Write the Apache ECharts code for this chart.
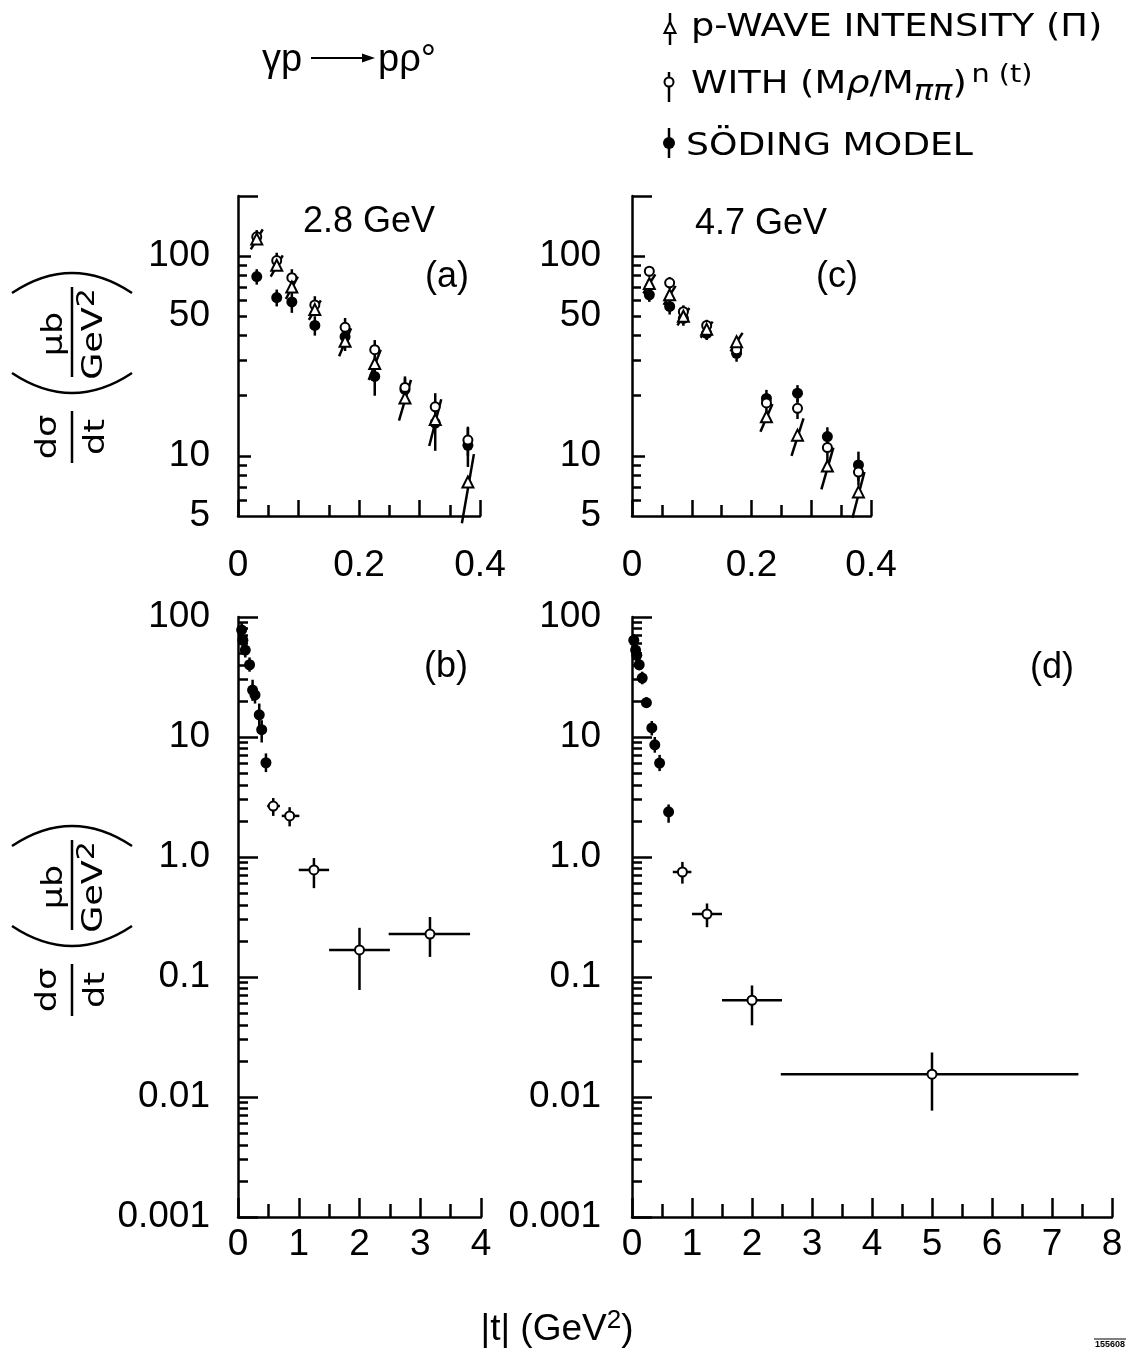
<!DOCTYPE html>
<html>
<head>
<meta charset="utf-8">
<script src="https://cdn.jsdelivr.net/npm/echarts@6.0.0/dist/echarts.min.js"></script>
<style>
html,body{margin:0;padding:0;background:#fff;}
#chart{width:1138px;height:1353px;}
</style>
</head>
<body>
<div id="chart"></div>
<script>
// ================= DATA =================
// Panel (a): 2.8 GeV, small |t|
const tA        = [0.031, 0.064, 0.089, 0.127, 0.177, 0.226, 0.276, 0.326, 0.380];
const pwaveA    = [122, 90, 70, 54, 37.5, 29, 19.5, 15.2, 7.4];
const pwaveAErr = [14, 11, 9, 6, 6, 5, 4.5, 4, 2.8];
const withA     = [125, 95, 78, 57, 44, 34, 22, 17.6, 12];
const withAErr  = [10, 9, 8, 6, 5, 4, 3, 3, 2];
const sodingA   = [79, 62, 59, 45, 39.5, 25, 21.5, 14.6, 11.3];
const sodingAErr= [7, 6, 7, 5, 6, 5, 3, 4, 2.5];

// Panel (c): 4.7 GeV, small |t|
const tC        = [0.029, 0.063, 0.086, 0.125, 0.175, 0.225, 0.277, 0.327, 0.379];
const pwaveC    = [73, 64, 50, 43, 37.3, 15.7, 12.7, 8.9, 6.6];
const pwaveCErr = [8, 7, 5, 4, 4, 2.5, 2.7, 2.1, 1.7];
const withC     = [84, 73.5, 52.7, 45, 34, 18.4, 17.3, 11.0, 8.3];
const withCErr  = [5, 5, 4, 3, 3, 2, 2, 1.8, 1.2];
const sodingC   = [64, 56, 48.8, 41, 32.6, 19.4, 20.6, 12.5, 9.0];
const sodingCErr= [5, 5, 4, 3, 3, 2, 2, 1.4, 1.5];

// Panel (b): 2.8 GeV, full |t| range
const tBf       = [0.06, 0.08, 0.12, 0.19, 0.24, 0.28, 0.35, 0.39, 0.46];
const sodingB   = [78, 64, 53, 40, 24.6, 22.4, 15.3, 11.5, 6.1];
const sodingBLo = [68, 55, 46, 35, 20, 19, 12, 9.0, 5.1];
const sodingBHi = [90, 74, 61, 46, 30, 26, 19, 13.8, 7.3];
const tBo       = [0.58, 0.85, 1.25, 2.0, 3.16];
const withB     = [2.66, 2.2, 0.78, 0.168, 0.228];
const withBLo   = [2.2, 1.8, 0.55, 0.078, 0.147];
const withBHi   = [3.1, 2.6, 0.98, 0.257, 0.316];
const withBtLo  = [0.48, 0.72, 1.0, 1.5, 2.48];
const withBtHi  = [0.69, 1.01, 1.5, 2.5, 3.82];

// Panel (d): 4.7 GeV, full |t| range
const tDf       = [0.03, 0.06, 0.08, 0.12, 0.17, 0.24, 0.33, 0.38, 0.46, 0.61];
const sodingD   = [64, 53, 48, 40, 31, 19.3, 11.9, 8.6, 6.06, 2.38];
const sodingDLo = [57, 47, 43, 36, 27.5, 17.5, 10.3, 7.4, 5.2, 1.93];
const sodingDHi = [72, 60, 54, 45, 35, 21.5, 13.6, 10, 7.1, 2.74];
const tDo       = [0.84, 1.25, 2.0, 5.0];
const withD     = [0.75, 0.335, 0.064, 0.0155];
const withDLo   = [0.60, 0.26, 0.0396, 0.0077];
const withDHi   = [0.91, 0.41, 0.085, 0.0235];
const withDtLo  = [0.68, 1.0, 1.5, 2.48];
const withDtHi  = [0.99, 1.5, 2.5, 7.44];

// Tick values / labels
const yLabelTopVals = [5, 10, 50, 100];
const yLabelTopText = ['5', '10', '50', '100'];
const yMajorTop     = [10, 100];
const yCapTop       = [200];
const yMinorTop     = [6, 7, 8, 9, 20, 30, 40, 50, 60, 70, 80, 90];
const yLabelBotVals = [0.001, 0.01, 0.1, 1, 10, 100];
const yLabelBotText = ['0.001', '0.01', '0.1', '1.0', '10', '100'];
const yMajorBot     = [0.001, 0.01, 0.1, 1, 10, 100];
const yMinorBot     = [];
[0.001, 0.01, 0.1, 1, 10].forEach(d => { for (let k = 2; k <= 9; k++) yMinorBot.push(+(d * k).toPrecision(3)); });

const seriesNames = ['p-WAVE INTENSITY (Π)', 'WITH (Mρ/Mππ)^n(t)', 'SÖDING MODEL'];

// ================= CHART =================
const chart = echarts.init(document.getElementById('chart'), null, {renderer: 'canvas'});
const INK = '#000';
const LW = 2.5;
const NUM_FONT = 'Liberation Sans';
const TXT_FONT = 'DejaVu Sans';

const grids = [
  {left: 238, top: 196, width: 242, height: 320},  // (a)
  {left: 632, top: 196, width: 239, height: 320},  // (c)
  {left: 238, top: 617, width: 243, height: 600},  // (b)
  {left: 632, top: 617, width: 480, height: 600}   // (d)
];

function fmtTopX(v) {
  const r = Math.round(v * 10);
  if (r % 2 !== 0) return '';
  return r === 0 ? '0' : (r / 10).toFixed(1);
}

function xAxisCfg(gi, max, interval, margin, fmt, majLen, minLen) {
  return {
    gridIndex: gi, type: 'value', min: 0, max: max, interval: interval, position: 'bottom',
    axisLine: {show: true, onZero: false, lineStyle: {color: INK, width: LW}},
    axisTick: {show: true, inside: true, length: majLen, lineStyle: {color: INK, width: LW}},
    minorTick: {show: true, splitNumber: 2, length: minLen, lineStyle: {color: INK, width: LW}},
    splitLine: {show: false}, minorSplitLine: {show: false},
    axisLabel: {show: true, margin: margin, color: INK, fontSize: 37, fontFamily: NUM_FONT,
      formatter: fmt, showMinLabel: true, showMaxLabel: true, hideOverlap: false}
  };
}

const xAxes = [
  xAxisCfg(0, 0.4, 0.1, 31, fmtTopX, 16, 11),
  xAxisCfg(1, 0.4, 0.1, 31, fmtTopX, 16, 11),
  xAxisCfg(2, 4, 1, 9, v => String(Math.round(v)), 19, 13),
  xAxisCfg(3, 8, 1, 9, v => String(Math.round(v)), 19, 13)
];

const yAxes = [];
const mainY = [];
function addY(gi, min, max, groups, labelVals, labelText, margin) {
  groups.forEach((g, k) => {
    const ax = {
      gridIndex: gi, type: 'log', logBase: 10, min: min, max: max, position: 'left', offset: 0,
      axisLine: {show: k === 0, onZero: false, lineStyle: {color: INK, width: LW}},
      axisTick: {show: true, inside: true, length: g.len, customValues: g.vals, lineStyle: {color: INK, width: LW}},
      splitLine: {show: false},
      axisLabel: {show: false}
    };
    if (k === 0) {
      ax.axisLabel = {
        show: true, margin: margin, color: INK, fontSize: 37, fontFamily: NUM_FONT,
        customValues: labelVals, showMinLabel: true, showMaxLabel: true, hideOverlap: false,
        formatter: v => {
          const i = labelVals.findIndex(u => Math.abs(Math.log10(u / v)) < 1e-4);
          return i >= 0 ? labelText[i] : '';
        }
      };
      mainY[gi] = yAxes.length;
    }
    yAxes.push(ax);
  });
}
addY(0, 5, 200, [{vals: yMajorTop, len: 13}, {vals: yMinorTop, len: 9}, {vals: yCapTop, len: 20}], yLabelTopVals, yLabelTopText, 28);
addY(1, 5, 200, [{vals: yMajorTop, len: 13}, {vals: yMinorTop, len: 9}, {vals: yCapTop, len: 20}], yLabelTopVals, yLabelTopText, 31);
addY(2, 0.001, 100, [{vals: yMajorBot, len: 20}, {vals: yMinorBot, len: 10}], yLabelBotVals, yLabelBotText, 28);
addY(3, 0.001, 100, [{vals: yMajorBot, len: 20}, {vals: yMinorBot, len: 10}], yLabelBotVals, yLabelBotText, 31);

// error bar renderer
function barRenderer(slant) {
  return function (params, api) {
    const t = api.value(0), lo = api.value(1), hi = api.value(2);
    const tl = api.value(3), th = api.value(4), v = api.value(5);
    const a = api.coord([t, lo]), b = api.coord([t, hi]);
    const ch = [{type: 'line', shape: {x1: a[0] - slant, y1: a[1], x2: b[0] + slant, y2: b[1]},
      style: {stroke: INK, lineWidth: LW}}];
    if (th > tl) {
      const c = api.coord([tl, v]), d = api.coord([th, v]);
      ch.push({type: 'line', shape: {x1: c[0], y1: c[1], x2: d[0], y2: d[1]}, style: {stroke: INK, lineWidth: LW}});
    }
    return {type: 'group', children: ch};
  };
}

const series = [];
const SYM = {
  tri:    {symbol: 'triangle', symbolSize: 11, itemStyle: {color: '#fff', borderColor: INK, borderWidth: 2, opacity: 1}},
  open:   {symbol: 'circle', symbolSize: 9, itemStyle: {color: '#fff', borderColor: INK, borderWidth: 2, opacity: 1}},
  filled: {symbol: 'circle', symbolSize: 11, itemStyle: {color: INK, opacity: 1}}
};
function addSet(gi, name, kind, t, v, lo, hi, tlo, thi, slant) {
  const bars = t.map((x, i) => [x, lo[i], hi[i], tlo ? tlo[i] : x, thi ? thi[i] : x, v[i]]);
  series.push({
    type: 'custom', name: name, xAxisIndex: gi, yAxisIndex: mainY[gi], z: 2, silent: true,
    renderItem: barRenderer(slant || 0), encode: {x: 0, y: [1, 2]}, data: bars, animation: false
  });
  series.push(Object.assign({
    type: 'scatter', name: name, xAxisIndex: gi, yAxisIndex: mainY[gi], z: 3, silent: true,
    data: t.map((x, i) => [x, v[i]]), animation: false
  }, SYM[kind]));
}
const sub = (v, e) => v.map((x, i) => x - e[i]);
const add = (v, e) => v.map((x, i) => x + e[i]);

// (a)
addSet(0, seriesNames[2], 'filled', tA, sodingA, sub(sodingA, sodingAErr), add(sodingA, sodingAErr));
addSet(0, seriesNames[1], 'open', tA, withA, sub(withA, withAErr), add(withA, withAErr));
addSet(0, seriesNames[0], 'tri', tA, pwaveA, sub(pwaveA, pwaveAErr), add(pwaveA, pwaveAErr), null, null, 6);
// (c)
addSet(1, seriesNames[2], 'filled', tC, sodingC, sub(sodingC, sodingCErr), add(sodingC, sodingCErr));
addSet(1, seriesNames[1], 'open', tC, withC, sub(withC, withCErr), add(withC, withCErr));
addSet(1, seriesNames[0], 'tri', tC, pwaveC, sub(pwaveC, pwaveCErr), add(pwaveC, pwaveCErr), null, null, 6);
// (b)
addSet(2, seriesNames[2], 'filled', tBf, sodingB, sodingBLo, sodingBHi);
addSet(2, seriesNames[1], 'open', tBo, withB, withBLo, withBHi, withBtLo, withBtHi);
// (d)
addSet(3, seriesNames[2], 'filled', tDf, sodingD, sodingDLo, sodingDHi);
addSet(3, seriesNames[1], 'open', tDo, withD, withDLo, withDHi, withDtLo, withDtHi);

// ---------- annotations ----------
function txt(s, x, y, size, align, font, sx) {
  return {type: 'text', x: x, y: y, scaleX: sx || 1, silent: true,
    style: {text: s, fontSize: size, fontFamily: font || NUM_FONT, fill: INK, align: align || 'center', verticalAlign: 'middle'}};
}
function yTitle(Y0) {
  const sx = 1.25, fs = 28;
  const t = (s, lx, ly, rich) => ({type: 'text', x: lx, y: ly, scaleX: sx, silent: true,
    style: {text: s, fontSize: fs, fontFamily: TXT_FONT, fill: INK, align: 'center', verticalAlign: 'middle', rich: rich}});
  const ln = (x1, x2) => ({type: 'line', shape: {x1: x1, y1: 0, x2: x2, y2: 0}, style: {stroke: INK, lineWidth: LW}});
  const arc = (x0, cx) => ({type: 'bezierCurve', shape: {x1: x0, y1: -60, x2: x0, y2: 60, cpx1: cx, cpy1: 0},
    style: {stroke: INK, fill: null, lineWidth: LW}});
  return {type: 'group', x: 72, y: Y0, rotation: Math.PI / 2, silent: true, children: [
    t('dσ', 28, -23), ln(2, 54), t('dt', 28, 25),
    arc(92, 52),
    t('μb', 131, -17), ln(88, 178),
    t('{a|GeV}{s|2}', 131, 23, {a: {fontSize: fs, fontFamily: TXT_FONT, fill: INK, lineHeight: 38},
      s: {fontSize: 24, fontFamily: TXT_FONT, fill: INK, verticalAlign: 'top', lineHeight: 24}}),
    arc(172, 212)
  ]};
}

const graphics = [
  // reaction
  txt('γp', 262, 61, 38, 'left'),
  {type: 'line', silent: true, shape: {x1: 311, y1: 58, x2: 366, y2: 58}, style: {stroke: INK, lineWidth: 2}},
  {type: 'polygon', silent: true, shape: {points: [[375, 58], [362, 53.5], [362, 62.5]]}, style: {fill: INK}},
  txt('pρ°', 378, 61, 38, 'left'),
  // legend
  {type: 'line', silent: true, shape: {x1: 670, y1: 13, x2: 670, y2: 45}, style: {stroke: INK, lineWidth: LW}},
  {type: 'polygon', silent: true, shape: {points: [[670, 22], [664.5, 33], [675.5, 33]]}, style: {fill: '#fff', stroke: INK, lineWidth: 2}},
  txt(seriesNames[0], 691, 28, 32, 'left', TXT_FONT, 1.15),
  {type: 'line', silent: true, shape: {x1: 669, y1: 72, x2: 669, y2: 102}, style: {stroke: INK, lineWidth: LW}},
  {type: 'circle', silent: true, shape: {cx: 669, cy: 82, r: 4.5}, style: {fill: '#fff', stroke: INK, lineWidth: 2}},
  {type: 'text', x: 691, y: 85, scaleX: 1.15, silent: true, style: {
    text: '{n|WITH (M}{i|ρ}{n|/M}{b|ππ}{n|)}{p|n (t)}', fill: INK, align: 'left', verticalAlign: 'middle',
    rich: {
      n: {fontSize: 32, fontFamily: TXT_FONT, lineHeight: 44},
      i: {fontSize: 32, fontFamily: TXT_FONT, fontStyle: 'italic', lineHeight: 44},
      b: {fontSize: 28, fontFamily: TXT_FONT, fontStyle: 'italic', verticalAlign: 'bottom', lineHeight: 27},
      p: {fontSize: 25, fontFamily: TXT_FONT, verticalAlign: 'top', lineHeight: 24, padding: [0, 0, 0, 4]}
    }}},
  {type: 'line', silent: true, shape: {x1: 669, y1: 128, x2: 669, y2: 158}, style: {stroke: INK, lineWidth: LW}},
  {type: 'circle', silent: true, shape: {cx: 669, cy: 143, r: 6}, style: {fill: INK}},
  txt(seriesNames[2], 686, 147, 32, 'left', TXT_FONT, 1.13),
  // panel labels
  txt('2.8 GeV', 369, 222, 36),
  txt('(a)', 447, 277, 36),
  txt('4.7 GeV', 761, 224, 36),
  txt('(c)', 837, 277, 36),
  txt('(b)', 446, 667, 36),
  txt('(d)', 1052, 668, 36),
  // y titles
  yTitle(465),
  yTitle(1018),
  // x title
  {type: 'text', x: 557, y: 1330, silent: true, style: {
    text: '{n||t| (GeV}{s|2}{n|)}', fill: INK, align: 'center', verticalAlign: 'middle',
    rich: {n: {fontSize: 37, fontFamily: NUM_FONT, lineHeight: 44},
           s: {fontSize: 26, fontFamily: NUM_FONT, verticalAlign: 'top', lineHeight: 26}}}},
  // figure number
  {type: 'text', x: 1110, y: 1345, silent: true, style: {text: '155608', fontSize: 9, fontWeight: 'bold', fontFamily: NUM_FONT, fill: INK, align: 'center', verticalAlign: 'middle'}},
  {type: 'line', silent: true, shape: {x1: 1094, y1: 1339, x2: 1126, y2: 1339}, style: {stroke: INK, lineWidth: 1}}
];

chart.setOption({
  backgroundColor: '#fff',
  animation: false,
  grid: grids,
  xAxis: xAxes,
  yAxis: yAxes,
  series: series,
  graphic: {elements: graphics}
});
</script>
</body>
</html>
